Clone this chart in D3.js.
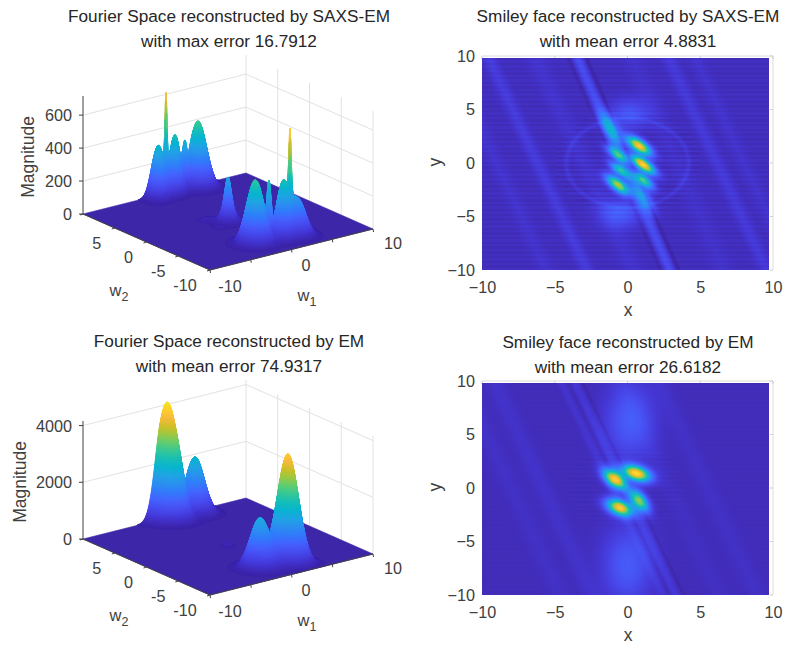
<!DOCTYPE html>
<html><head><meta charset="utf-8">
<script src="https://cdnjs.cloudflare.com/ajax/libs/d3/7.8.5/d3.min.js"></script>
<style>
html,body{margin:0;padding:0;background:#fff}
svg{display:block}
text{font-family:"Liberation Sans",Arial,sans-serif}
</style></head><body>
<svg id="chart" width="785" height="645"></svg>
<script>
// ---- titles and labels
const titles3dTop = ["Fourier Space reconstructed by SAXS-EM","with max error 16.7912"];
const titles3dBottom = ["Fourier Space reconstructed by EM","with mean error 74.9317"];
const titlesMapTop = ["Smiley face reconstructed by SAXS-EM","with mean error 4.8831"];
const titlesMapBottom = ["Smiley face reconstructed by EM","with mean error 26.6182"];
const w1Ticks = [-10,0,10], w2Ticks = [-10,-5,0,5], mapTicks = [-10,-5,0,5,10];
const zTicksTop = [0,200,400,600], zTicksBottom = [0,2000,4000];

// ---- Fourier magnitude features:
// [w1, w2, magnitude, spread along the ridge, spread across it]
const saxsSurfacePeaks = [
 [-1.07,9.6,310,.62,.8],[1.0,9.63,345,.52,.8],[3.77,9.56,400,.83,.8],
 [-.15,9.57,440,.1,.1],[2.22,9.62,190,.22,.2],
 [-1.75,-6.55,385,.85,.8],[1.37,-6.9,330,.62,.8],[3.0,-7.19,215,.75,.8],
 [-.08,-6.55,290,.2,.2],[2.28,-6.84,400,.11,.1],
 [0,0,190,.3,.3],[0,0,80,.7,.7],
 [-1.5,1.5,16,.4,.4],[1.5,-1.5,16,.4,.4],[1.8,1,14,.4,.3],[-1.8,-1,14,.4,.3]
];
const emSurfacePeaks = [
 [-.07,9.5,4150,1.07,.8],[3.36,9.5,1975,.9,.8],
 [1.76,-7.18,3845,1.02,.8],[-1.31,-6.72,1760,.95,.8],
 [0,0,120,.3,.3],[1.02,8.7,300,.5,.5]
];

// ---- image features: [x, y, level, long spread, short spread, tilt deg]
const saxsMapBlobs = [
 [.8,1.6,.88,.74,.33,-48],[1.07,-.15,.92,.74,.3,-48],[1.07,-1.6,.58,.66,.28,-50],
 [-.64,-2.05,.74,.74,.32,-50],[-.53,-.65,.52,.62,.26,-50],[-.7,.8,.52,.64,.27,-48],
 [-1.1,3.1,.36,1.1,.36,-68],[1.07,-3.1,.3,1.05,.32,-68],
 [.15,4.6,.13,.95,.9,0],[-.5,-4.7,.15,.95,.9,0]
];
// streaks: [x at y=0, dx/dy, level, width]
const saxsMapStreaks = [
 [-.3,-.32,.1,.27],[-6.2,-.34,.05,.35],[6.15,-.34,.045,.35],[8,-.34,.025,.35],[-9,-.34,.025,.4],[-3,-.34,.025,.5],[3.4,-.32,.02,.5],
 [-.9,-.32,-.03,.12],[.3,-.32,-.05,.1]
];
const saxsMapRing = [4.2,.035,.13];
const emMapBlobs = [
 [.6,1.37,.94,.7,.44,-30],[-.87,.8,.9,.72,.38,-55],[-.53,-1.84,.86,.68,.44,-38],
 [.8,-1.18,.7,.74,.34,-65],
 [.15,6.2,.15,2.4,1.15,-90],[0,-7.2,.15,2.4,1.15,-90]
];
const emMapStreaks = [
 [-.2,-.35,.04,.25],[-1.1,-.35,.03,.22],[-5.8,-.34,.025,.5],[5.5,-.34,.02,.5],[-8,-.34,.02,.5],[2.9,-.34,.015,.5],
 [-.6,-.35,-.018,.1],[.35,-.35,-.025,.1]
];
const rowRipple = [.011,-.011];

// parula colour stops
const parulaStops = ["#3e26a8","#4537d5","#484df0","#4563fd","#327bfc","#2b91ef","#20a5e3","#08b5d0","#19bfb6","#37c897","#63cd6f","#9dc943","#d1bf27","#f8ba3d","#fcce2d","#f5e518"];
const parula = d3.scaleSequential(d3.piecewise(d3.interpolateRgb,parulaStops)).domain([0,1]).clamp(true);

const svg = d3.select("#chart");
const ink = "#404040";

function title(lines, cx, y0, dy){
  lines.forEach((t,i)=>svg.append("text").attr("x",cx).attr("y",y0+i*dy).attr("text-anchor","middle")
    .attr("font-size",17.2).attr("fill","#262626").text(t));
}

function surface(offY, peaks, zMaxAxis, zTicks, ttl, labelX, titleY){
  const f1x=d3.scaleLinear([-10,10],[0,163]), f1y=d3.scaleLinear([-10,10],[0,-41]);
  const f2x=d3.scaleLinear([-10,10],[0,-127]), f2y=d3.scaleLinear([-10,10],[0,-56]);
  const zS=d3.scaleLinear([0,zMaxAxis],[0,-118]);
  const P=(a,b,z=0)=>[210+f1x(a)+f2x(b), 270+offY+f1y(a)+f2y(b)+zS(z)];
  const g=svg.append("g");
  const line=(p,q,c,w)=>g.append("line").attr("x1",p[0]).attr("y1",p[1]).attr("x2",q[0]).attr("y2",q[1]).attr("stroke",c).attr("stroke-width",w);
  // walls
  zTicks.slice(1).forEach(z=>{ line(P(-10,10,z),P(10,10,z),"#e2e2e2",1); line(P(10,10,z),P(10,-10,z),"#e2e2e2",1); });
  [10,5,0,-5,-10].forEach(b=>line(P(10,b,0),P(10,b,zMaxAxis),"#e2e2e2",1));

  // surface
  const step=.05, n=401, Z=new Float32Array(n*n), W=i=>-10+i*step, R=Math.SQRT1_2;
  peaks.forEach(([a,b,m,sL,sA])=>{
    for(let i=0;i<n;i++) for(let j=0;j<n;j++){
      const da=W(i)-a, db=W(j)-b, l=(da-db)*R/sL, t=(da+db)*R/sA, e=l*l+t*t;
      if(e<22) Z[i*n+j]+=m*Math.exp(-e/2);
    }
  });
  const maxZ=d3.max(Z);
  const cv=document.createElement("canvas"); cv.width=785; cv.height=645;
  const c=cv.getContext("2d");
  const poly=(pts,col)=>{c.fillStyle=col;c.strokeStyle=col;c.lineWidth=.6;c.beginPath();pts.forEach((p,k)=>k?c.lineTo(p[0],p[1]):c.moveTo(p[0],p[1]));c.closePath();c.fill();c.stroke();};
  poly([P(-10,-10),P(10,-10),P(10,10),P(-10,10)],parula(0));
  const thr=maxZ*.002;
  for(let i=n-2;i>=0;i--) for(let j=n-2;j>=0;j--){
    const q=[Z[i*n+j],Z[(i+1)*n+j],Z[(i+1)*n+j+1],Z[i*n+j+1]];
    if(Math.max(...q)<thr) continue;
    poly([P(W(i),W(j),q[0]),P(W(i+1),W(j),q[1]),P(W(i+1),W(j+1),q[2]),P(W(i),W(j+1),q[3])],parula(d3.mean(q)/maxZ));
  }
  g.append("image").attr("width",785).attr("height",645).attr("href",cv.toDataURL()).style("filter","blur(.45px)");

  // axes
  line(P(-10,10,0),P(-10,10,zMaxAxis),ink,1);
  line(P(-10,10,0),P(-10,-10,0),ink,1);
  line(P(-10,-10,0),P(10,-10,0),ink,1);
  zTicks.forEach(z=>{ const p=P(-10,10,z); line([p[0]-4,p[1]],p,ink,1);
    g.append("text").attr("x",p[0]-11).attr("y",p[1]+6).attr("text-anchor","end").attr("font-size",16.2).attr("fill",ink).text(z); });
  [-10,-5,0,5,10].forEach(a=>{const p=P(a,-10);line(p,[p[0]+.5,p[1]+3],ink,1);});
  [-10,-5,0,5,10].forEach(b=>{const p=P(-10,b);line(p,[p[0]-3,p[1]+1],ink,1);});
  w1Ticks.forEach(a=>{const p=P(a,-10);
    g.append("text").attr("x",p[0]+(a==0?14.5:20)).attr("y",p[1]+(a==10?20:a==0?21:22)).attr("text-anchor","middle").attr("font-size",16.2).attr("fill",ink).text(a);});
  w2Ticks.forEach(b=>{const p=P(-10,b);
    g.append("text").attr("x",p[0]+(b==-10?-25:b==-5?-20:-18)).attr("y",p[1]+20.5).attr("text-anchor","middle").attr("font-size",16.2).attr("fill",ink).text(b);});
  const w=(x,y,s)=>{const t=g.append("text").attr("x",x).attr("y",y).attr("text-anchor","middle").attr("font-size",16.5).attr("fill",ink).text("w");
    t.append("tspan").attr("dy",5).attr("font-size",12.5).text(s);};
  w(307,301+offY,"1"); w(119,296+offY,"2");
  g.append("text").attr("transform",`translate(${labelX},${157+offY}) rotate(-90)`).attr("text-anchor","middle").attr("font-size",17.5).attr("fill",ink).text("Magnitude");
  title(ttl,229,titleY,25);
}

function heatmap(offY, blobs, streaks, ring, ripple, base, ttl, titleY){
  const x=d3.scaleLinear([-10,10],[482,773]), y=d3.scaleLinear([-10,10],[270+offY,56+offY]);
  const g=svg.append("g");
  const xEnd=9.72, yEnd=9.8;
  const x0=Math.round(x(-10)), x1=Math.round(x(xEnd)), y0=Math.round(y(yEnd)), y1=Math.round(y(-10));
  const W=x1-x0, H=y1-y0;
  const cv=document.createElement("canvas"); cv.width=W; cv.height=H;
  const c=cv.getContext("2d"), im=c.createImageData(W,H);
  const pre=blobs.map(([bx,by,l,sa,sb,t])=>[bx,by,l,sa,sb,Math.cos(t*Math.PI/180),Math.sin(t*Math.PI/180)]);
  for(let py=0;py<H;py++){ const vy=y.invert(y0+py+.5);
    const row=Math.floor((vy+10)/.22);
    for(let px=0;px<W;px++){ const vx=x.invert(x0+px+.5);
      let v=base;
      for(const [bx,by,l,sa,sb,co,si] of pre){ const dx=vx-bx, dy=vy-by, u=dx*co+dy*si, t=-dx*si+dy*co; v+=l*Math.exp(-.5*(u*u/(sa*sa)+t*t/(sb*sb))); }
      for(const [s0,sl,l,wd] of streaks){ const d=(vx-(s0+sl*vy))/wd; v+=l*Math.exp(-.5*d*d); }
      const r=Math.hypot(vx,vy);
      if(ring){ const d=(r-ring[0])/ring[2]; v+=ring[1]*Math.exp(-.5*d*d); }
      const env=ring? (r<5?1.4:.7) : (r<4?.4:.08);
      v+=ripple[row%ripple.length]*env;
      const col=d3.rgb(parula(v)), k=(py*W+px)*4;
      im.data[k]=col.r;im.data[k+1]=col.g;im.data[k+2]=col.b;im.data[k+3]=255;
    }
  }
  c.putImageData(im,0,0);
  g.append("path").attr("d",`M${x(-10)},${y(10)}H${x(10)}V${y(-10)}`).attr("fill","none").attr("stroke","#dcdcdc");
  mapTicks.forEach(t=>{ g.append("line").attr("x1",x(t)).attr("x2",x(t)).attr("y1",y(10)).attr("y2",y(10)+3).attr("stroke","#cfcfcf");
    g.append("line").attr("x1",x(10)-3).attr("x2",x(10)).attr("y1",y(t)).attr("y2",y(t)).attr("stroke","#cfcfcf"); });
  g.append("image").attr("x",x0).attr("y",y0).attr("width",W).attr("height",H).attr("preserveAspectRatio","none").attr("href",cv.toDataURL()).style("filter","blur(.5px)");
  const ax=g.append("g").attr("transform",`translate(0,${y(-10)})`).call(d3.axisBottom(x).tickValues(mapTicks).tickSize(0).tickPadding(11));
  const ay=g.append("g").attr("transform",`translate(${x(-10)},0)`).call(d3.axisLeft(y).tickValues(mapTicks).tickSize(0).tickPadding(7));
  [ax,ay].forEach(a=>{a.select(".domain").remove();a.selectAll("text").attr("font-size",16.2).attr("fill",ink).attr("font-family",'"Liberation Sans"');});
  g.append("text").attr("x",628).attr("y",316+offY).attr("text-anchor","middle").attr("font-size",17.5).attr("fill",ink).text("x");
  g.append("text").attr("transform",`translate(441,${162+offY}) rotate(-90)`).attr("text-anchor","middle").attr("font-size",17.5).attr("fill",ink).text("y");
  title(ttl,628,titleY,25);
}

surface(0,saxsSurfacePeaks,716,zTicksTop,titles3dTop,34,22);
surface(325,emSurfacePeaks,4162,zTicksBottom,titles3dBottom,26,347);
heatmap(0,saxsMapBlobs,saxsMapStreaks,saxsMapRing,rowRipple,.03,titlesMapTop,22);
heatmap(325,emMapBlobs,emMapStreaks,null,rowRipple,.025,titlesMapBottom,348);
</script></body></html>
